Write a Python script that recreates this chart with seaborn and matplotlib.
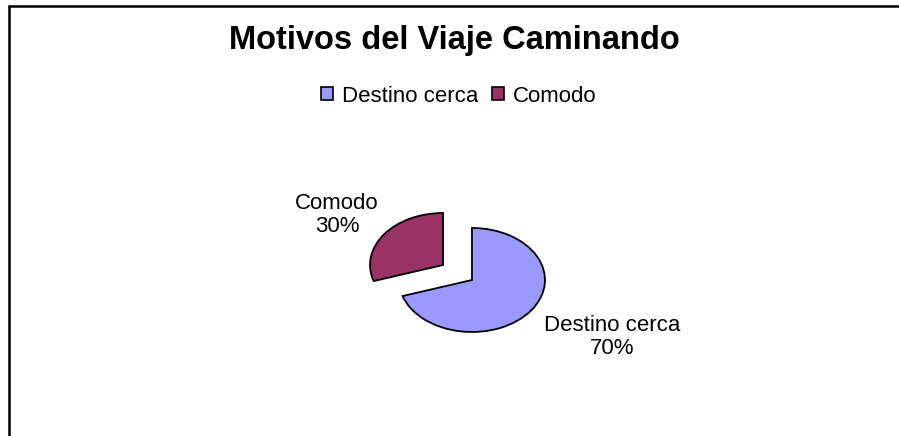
import numpy as np
import matplotlib
matplotlib.use("Agg")
import matplotlib.pyplot as plt
import seaborn as sns

sns.set_theme(style="white")
plt.rcParams['font.family'] = ['Liberation Sans', 'DejaVu Sans']
plt.rcParams['text.color'] = 'black'

title = "Motivos del Viaje Caminando"
categories = ["Destino cerca", "Comodo"]
values = [70, 30]
colors = ["#9999FF", "#993366"]

W, H = 899, 436
fig = plt.figure(figsize=(W / 100, H / 100), dpi=100)
ax = fig.add_axes([0, 0, 1, 1])

# pixel geometry of the pie (ellipse)
cx, cy = 457.5, 272.5
rx, ry = 73.0, 52.0

wedges, _ = ax.pie(values, colors=colors, startangle=90, counterclock=False,
                   explode=[0.245, 0.245],
                   wedgeprops=dict(edgecolor="black", linewidth=1.3))
ax.set_aspect('auto')
ax.set_xlim(-cx / rx, (W - cx) / rx)
ax.set_ylim((cy - H) / ry, cy / ry)
ax.axis('off')

total = sum(values)
# label anchor positions (layout, in pie units)
label_xy = [(2.12, -1.24), (-1.65, 1.11)]
for (lx, ly), cat, v in zip(label_xy, categories, values):
    ax.text(lx, ly, f"{cat}\n{round(100 * v / total)}%",
            ha="center", va="center", fontsize=16, linespacing=1.1, color="black")

fig.text(454 / W, 1 - 41 / H, title, ha="center", va="center",
         fontsize=23.5, fontweight="bold", color="black")

handles = [plt.Rectangle((0, 0), 1, 1, facecolor=c, edgecolor="black", linewidth=1.2)
           for c in colors]
leg = fig.legend(handles, categories, loc="center", bbox_to_anchor=(459 / W, 1 - 96 / H),
                 ncol=2, frameon=False, fontsize=16, handlelength=0.55, handleheight=0.55,
                 handletextpad=0.4, columnspacing=0.6)
for t in leg.get_texts():
    t.set_color("black")

# chart border (top and left)
fig.add_artist(plt.Line2D([8.5 / W, 8.5 / W], [0, 1 - 6.5 / H], color="black", lw=1.8,
                          transform=fig.transFigure))
fig.add_artist(plt.Line2D([8.5 / W, 1], [1 - 6.5 / H, 1 - 6.5 / H], color="black", lw=1.8,
                          transform=fig.transFigure))

fig.savefig("out.png", dpi=100)
